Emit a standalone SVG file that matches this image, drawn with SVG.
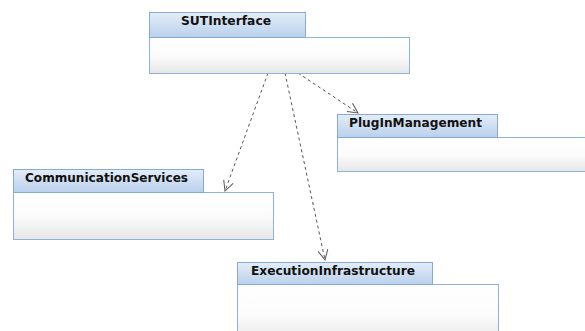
<svg xmlns="http://www.w3.org/2000/svg" width="585" height="331" viewBox="0 0 585 331">
  <style>
    .tab { fill: url(#tabGrad); stroke: #86aad6; stroke-width: 1; }
    .body { fill: url(#bodyGrad); stroke: #8fb2da; stroke-width: 1; }
    .name { font-family: "DejaVu Sans", Verdana, sans-serif; font-weight: bold; font-size: 12px; fill: #111; text-anchor: middle; }
    .dep { fill: none; stroke: #555; stroke-width: 1; stroke-dasharray: 3 3; marker-end: url(#openArrow); }
  </style>
  <defs>
    <linearGradient id="tabGrad" x1="0" y1="0" x2="0" y2="1">
      <stop offset="0" stop-color="#e4edf8"/>
      <stop offset="1" stop-color="#b9d0ec"/>
    </linearGradient>
    <linearGradient id="bodyGrad" x1="0" y1="0" x2="0" y2="1">
      <stop offset="0" stop-color="#ffffff"/>
      <stop offset="0.5" stop-color="#fcfcfc"/>
      <stop offset="1" stop-color="#e6e6e6"/>
    </linearGradient>
    <marker id="openArrow" viewBox="0 0 12 12" refX="11" refY="6" markerWidth="12" markerHeight="12" markerUnits="userSpaceOnUse" orient="auto">
      <path d="M1,1 L11,6 L1,11" fill="none" stroke="#555" stroke-width="1"/>
    </marker>
  </defs>
  <rect width="585" height="331" fill="#ffffff"/>

  <g id="connectors">
    <path class="dep" d="M268,73 L225,191"/>
    <path class="dep" d="M285,73 L325,260"/>
    <path class="dep" d="M298,73 L358,113"/>
  </g>

  <g id="SUTInterface">
    <rect class="body" x="149.5" y="37.5" width="260" height="36"/>
    <rect class="tab" x="149.5" y="12.5" width="156" height="25"/>
    <text class="name" x="226" y="25" textLength="90" lengthAdjust="spacingAndGlyphs">SUTInterface</text>
  </g>

  <g id="PlugInManagement">
    <rect class="body" x="337.5" y="137.5" width="260" height="34"/>
    <rect class="tab" x="337.5" y="114.5" width="160" height="23"/>
    <text class="name" x="415.5" y="127" textLength="133" lengthAdjust="spacingAndGlyphs">PlugInManagement</text>
  </g>

  <g id="CommunicationServices">
    <rect class="body" x="13.5" y="192.5" width="260" height="47"/>
    <rect class="tab" x="13.5" y="169.5" width="190" height="23"/>
    <text class="name" x="106.5" y="182" textLength="163" lengthAdjust="spacingAndGlyphs">CommunicationServices</text>
  </g>

  <g id="ExecutionInfrastructure">
    <rect class="body" x="237.5" y="284.5" width="261" height="60"/>
    <rect class="tab" x="237.5" y="262.5" width="195" height="22"/>
    <text class="name" x="333" y="275" textLength="164" lengthAdjust="spacingAndGlyphs">ExecutionInfrastructure</text>
  </g>
</svg>
